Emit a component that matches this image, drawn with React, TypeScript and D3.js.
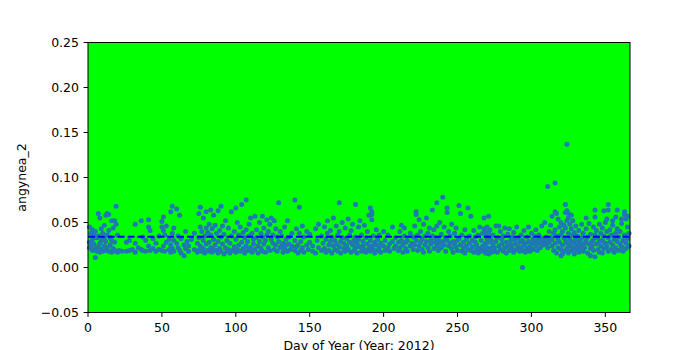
import React from "react";
import * as d3 from "d3";

// Each row: [dayOfYear, value, value, ...]
const quarter1: number[][] = [
  [1, 0.045, 0.028, 0.022], [2, 0.038, 0.024], [3, 0.042, 0.031, 0.019], [4, 0.026, 0.036],
  [5, 0.011, 0.021, 0.040], [6, 0.033, 0.018], [7, 0.060, 0.035, 0.023], [8, 0.055, 0.027, 0.017],
  [9, 0.043, 0.030, 0.020], [10, 0.038, 0.018], [11, 0.032, 0.024, 0.047], [12, 0.058, 0.029, 0.019],
  [13, 0.060, 0.036, 0.022], [14, 0.059, 0.041, 0.018], [15, 0.033, 0.025], [16, 0.052, 0.030, 0.017],
  [17, 0.044, 0.021], [18, 0.052, 0.028, 0.019], [19, 0.068, 0.048, 0.018], [20, 0.036, 0.017],
  [21, 0.019], [23, 0.018], [26, 0.018, 0.028], [28, 0.030, 0.019], [30, 0.020],
  [32, 0.048, 0.027, 0.017], [34, 0.022], [36, 0.052, 0.020], [37, 0.019, 0.034], [39, 0.030, 0.018],
  [41, 0.053, 0.045, 0.024], [42, 0.041, 0.019], [44, 0.021, 0.032], [46, 0.018, 0.027],
  [48, 0.035, 0.020], [50, 0.045, 0.051, 0.019], [51, 0.056, 0.041, 0.024], [52, 0.036, 0.018],
  [53, 0.028, 0.046], [55, 0.020, 0.031], [56, 0.062, 0.025, 0.017], [57, 0.068, 0.038, 0.021],
  [58, 0.030, 0.018, 0.044], [60, 0.065, 0.027], [61, 0.022, 0.035], [62, 0.058, 0.019],
  [63, 0.032, 0.016], [65, 0.025, 0.013], [66, 0.040, 0.021], [67, 0.029], [68, 0.018, 0.024],
  [70, 0.031], [72, 0.020, 0.038], [74, 0.027, 0.017], [75, 0.060, 0.033, 0.019],
  [76, 0.067, 0.045, 0.024], [77, 0.040, 0.018], [78, 0.055, 0.030, 0.021], [79, 0.035, 0.016],
  [80, 0.062, 0.044, 0.026], [81, 0.039, 0.019], [82, 0.048, 0.028, 0.018], [83, 0.064, 0.036, 0.022],
  [84, 0.043, 0.017], [85, 0.058, 0.031, 0.020], [86, 0.047, 0.025], [87, 0.038, 0.019],
  [88, 0.063, 0.029, 0.016], [89, 0.041, 0.021], [90, 0.068, 0.034, 0.018], [91, 0.046, 0.026],
];

const quarter2: number[][] = [
  [92, 0.037, 0.015], [93, 0.052, 0.022], [94, 0.030, 0.018], [95, 0.044, 0.020], [96, 0.027, 0.016],
  [97, 0.062, 0.035], [98, 0.019], [99, 0.040, 0.023], [100, 0.066, 0.031, 0.017], [101, 0.050, 0.020],
  [102, 0.036, 0.025], [103, 0.045, 0.018], [104, 0.070, 0.028], [105, 0.039, 0.021], [106, 0.033, 0.016],
  [107, 0.075, 0.042, 0.024], [108, 0.029, 0.019], [109, 0.048, 0.035], [110, 0.055, 0.022],
  [111, 0.038, 0.017], [112, 0.031, 0.026], [113, 0.057, 0.020], [114, 0.042, 0.033], [115, 0.024, 0.016],
  [116, 0.050, 0.029], [117, 0.038, 0.021], [118, 0.057, 0.034, 0.018], [119, 0.044, 0.026],
  [120, 0.030, 0.017], [121, 0.053, 0.036], [122, 0.022, 0.040], [123, 0.048, 0.019], [124, 0.055, 0.031],
  [125, 0.027, 0.036], [126, 0.052, 0.020], [127, 0.043, 0.025], [128, 0.034, 0.018], [129, 0.072, 0.029],
  [130, 0.040, 0.022], [131, 0.024, 0.035], [132, 0.027, 0.017], [133, 0.045, 0.021], [134, 0.031, 0.025],
  [135, 0.052, 0.018], [136, 0.026, 0.034], [137, 0.020], [138, 0.038, 0.024], [140, 0.075, 0.030, 0.019],
  [141, 0.043, 0.023], [142, 0.025, 0.016], [143, 0.067, 0.038], [144, 0.029, 0.019], [145, 0.046, 0.022],
  [146, 0.034, 0.017], [148, 0.040, 0.025], [149, 0.020], [150, 0.028, 0.037], [152, 0.018, 0.024],
  [154, 0.043, 0.016], [155, 0.030], [156, 0.022, 0.048], [158, 0.035, 0.019], [159, 0.027],
  [160, 0.045, 0.021], [161, 0.031, 0.017], [162, 0.052, 0.038], [163, 0.025, 0.019], [164, 0.041, 0.029],
  [165, 0.016, 0.034], [166, 0.055, 0.024], [167, 0.030, 0.020], [168, 0.046, 0.026], [169, 0.036, 0.018],
  [170, 0.072, 0.040, 0.023], [171, 0.029, 0.016], [172, 0.050, 0.033], [173, 0.021, 0.027],
  [174, 0.044, 0.018], [175, 0.032, 0.024], [176, 0.054, 0.020], [177, 0.028, 0.036], [178, 0.017, 0.041],
  [179, 0.048, 0.025], [180, 0.030, 0.019], [181, 0.070, 0.034, 0.022], [182, 0.027, 0.016],
];

const quarter3: number[][] = [
  [183, 0.045, 0.031], [184, 0.052, 0.023], [185, 0.036, 0.018], [186, 0.029, 0.024], [187, 0.047, 0.020],
  [188, 0.033, 0.017], [189, 0.040, 0.026], [190, 0.058, 0.021], [191, 0.066, 0.030, 0.018],
  [192, 0.062, 0.059, 0.053, 0.024], [193, 0.035, 0.020], [194, 0.028, 0.016], [195, 0.042, 0.025],
  [196, 0.031, 0.019], [197, 0.022, 0.036], [198, 0.027, 0.017], [200, 0.040, 0.024], [201, 0.030, 0.019],
  [203, 0.022, 0.036], [204, 0.026, 0.018], [206, 0.045, 0.029], [207, 0.021], [208, 0.033, 0.024],
  [210, 0.019, 0.028], [211, 0.040, 0.022], [212, 0.047, 0.030], [213, 0.025, 0.017], [214, 0.044, 0.035],
  [215, 0.021, 0.028], [216, 0.030, 0.018], [218, 0.024, 0.038], [219, 0.027], [220, 0.034, 0.020],
  [221, 0.046, 0.025], [222, 0.062, 0.059, 0.030], [223, 0.036, 0.019], [224, 0.053, 0.024],
  [225, 0.040, 0.028], [226, 0.020, 0.031], [227, 0.048, 0.017], [228, 0.035, 0.025], [229, 0.055, 0.029],
  [230, 0.022, 0.038], [231, 0.044, 0.018], [232, 0.030, 0.026], [233, 0.064, 0.035], [234, 0.042, 0.021],
  [235, 0.028, 0.033], [236, 0.072, 0.046, 0.024], [237, 0.031, 0.019], [238, 0.050, 0.027],
  [239, 0.037, 0.022], [240, 0.078, 0.029], [241, 0.045, 0.025], [242, 0.033, 0.018],
  [243, 0.066, 0.061, 0.030], [244, 0.040, 0.024], [245, 0.027, 0.035], [246, 0.048, 0.021],
  [247, 0.029, 0.017], [248, 0.038, 0.026], [249, 0.044, 0.023], [250, 0.030, 0.019], [251, 0.069, 0.032],
  [252, 0.060, 0.025], [253, 0.036, 0.018], [254, 0.028, 0.022], [255, 0.042, 0.016], [256, 0.031, 0.024],
  [257, 0.066, 0.020], [258, 0.035, 0.027], [259, 0.057, 0.019], [260, 0.023, 0.030], [261, 0.041, 0.017],
  [262, 0.028, 0.034], [263, 0.020, 0.025], [264, 0.036, 0.016], [265, 0.045, 0.021], [266, 0.030, 0.018],
  [267, 0.024, 0.038], [268, 0.055, 0.043, 0.020], [269, 0.040, 0.035, 0.027, 0.016],
  [270, 0.045, 0.032, 0.022, 0.018], [271, 0.057, 0.039, 0.028, 0.015], [272, 0.042, 0.034, 0.021],
  [273, 0.030, 0.017], [274, 0.036, 0.025],
];

const quarter4: number[][] = [
  [275, 0.022, 0.018], [276, 0.046, 0.029], [277, 0.033, 0.017], [278, 0.046, 0.024], [279, 0.040, 0.020],
  [280, 0.031, 0.026], [281, 0.018, 0.035], [282, 0.044, 0.022], [283, 0.028, 0.016], [284, 0.037, 0.024],
  [285, 0.043, 0.019], [286, 0.030, 0.025], [287, 0.021, 0.034], [288, 0.039, 0.017], [289, 0.026, 0.031],
  [290, 0.045, 0.020], [291, 0.033, 0.023], [292, 0.018, 0.028], [293, 0.036, 0.022],
  [294, 0.000, 0.030, 0.019], [295, 0.041, 0.025], [296, 0.027, 0.017], [297, 0.034, 0.021],
  [298, 0.045, 0.029], [299, 0.023, 0.018], [300, 0.038, 0.026], [301, 0.031, 0.020], [302, 0.028, 0.035],
  [303, 0.042, 0.024], [304, 0.019, 0.030], [305, 0.036, 0.027], [306, 0.033, 0.022], [307, 0.046, 0.029],
  [308, 0.025, 0.031], [309, 0.050, 0.030], [310, 0.034, 0.026], [311, 0.090, 0.030, 0.022],
  [312, 0.040, 0.028], [313, 0.047, 0.033], [314, 0.057, 0.031, 0.024], [315, 0.038, 0.019],
  [316, 0.094, 0.062, 0.042, 0.027], [317, 0.060, 0.035, 0.016], [318, 0.054, 0.031, 0.022],
  [319, 0.045, 0.028], [320, 0.050, 0.036, 0.020, 0.013], [321, 0.040, 0.025, 0.015],
  [322, 0.047, 0.033, 0.018], [323, 0.070, 0.061, 0.044, 0.030], [324, 0.137, 0.063, 0.052, 0.027, 0.021],
  [325, 0.060, 0.055, 0.038, 0.016], [326, 0.048, 0.032, 0.024], [327, 0.058, 0.043, 0.029, 0.019],
  [328, 0.052, 0.036, 0.022], [329, 0.039, 0.027, 0.015], [330, 0.046, 0.031, 0.020], [331, 0.035, 0.024],
  [332, 0.041, 0.028, 0.017], [333, 0.030, 0.021], [334, 0.048, 0.033, 0.025], [335, 0.038, 0.018],
  [336, 0.027, 0.022], [337, 0.055, 0.043, 0.030], [338, 0.034, 0.016], [339, 0.049, 0.026],
  [340, 0.037, 0.013, 0.021], [341, 0.029, 0.024], [342, 0.045, 0.031, 0.019],
  [343, 0.064, 0.056, 0.036, 0.012], [344, 0.041, 0.026], [345, 0.033, 0.020], [346, 0.048, 0.029, 0.017],
  [347, 0.038, 0.024], [348, 0.044, 0.030, 0.016], [349, 0.063, 0.035, 0.021], [350, 0.050, 0.027],
  [351, 0.054, 0.040, 0.023], [352, 0.070, 0.064, 0.033, 0.018], [353, 0.042, 0.028], [354, 0.036, 0.020],
  [355, 0.052, 0.047, 0.025], [356, 0.031, 0.017], [357, 0.056, 0.038, 0.022], [358, 0.064, 0.043, 0.029],
  [359, 0.034, 0.019], [360, 0.040, 0.026], [361, 0.054, 0.049, 0.023], [362, 0.030, 0.018],
  [363, 0.062, 0.059, 0.036], [364, 0.054, 0.027, 0.021], [365, 0.057, 0.045, 0.032], [366, 0.038, 0.024],
];

const meanLine = 0.0341;
const xTicks = [0, 50, 100, 150, 200, 250, 300, 350];
const yTicks = [-0.05, 0, 0.05, 0.1, 0.15, 0.2, 0.25];
const xLabel = "Day of Year (Year: 2012)";
const yLabel = "angynea_2";

export default function App() {
  const W = 700, H = 350;
  const L = 88, R = 630, T = 42.5, B = 312.5;
  const x = d3.scaleLinear().domain([0, 366.7]).range([L, R]);
  const y = d3.scaleLinear().domain([-0.05, 0.25]).range([B, T]);
  const points: [number, number][] = [];
  [...quarter1, ...quarter2, ...quarter3, ...quarter4].forEach((row) => {
    for (let i = 1; i < row.length; i++) points.push([row[0], row[i]]);
  });
  const font = "'DejaVu Sans', sans-serif";
  const fs = 12.5;
  const fmtY = (v: number) => {
    const s = Math.abs(v).toFixed(2);
    return v < -1e-9 ? "\u2212" + s : s;
  };
  return (
    <svg width={W} height={H} style={{ position: "absolute", left: 0, top: 0, background: "#fff" }}>
      <rect x={L} y={T} width={R - L} height={B - T} fill="#00ff00" />
      <g>
        {points.map((p, i) => (
          <circle key={i} cx={x(p[0])} cy={y(p[1])} r={2.5} fill="#1f77b4" />
        ))}
      </g>
      <line x1={L} x2={R} y1={y(meanLine)} y2={y(meanLine)} stroke="#0000ff" strokeWidth={1.9} strokeDasharray="6.9,3" />
      <rect x={L} y={T} width={R - L} height={B - T} fill="none" stroke="#000" strokeWidth={1} />
      {xTicks.map((t) => (
        <g key={"x" + t}>
          <line x1={x(t)} x2={x(t)} y1={B} y2={B + 4.4} stroke="#000" strokeWidth={1} />
          <text x={x(t)} y={B + 19.3} textAnchor="middle" fontFamily={font} fontSize={fs} fill="#000">{t}</text>
        </g>
      ))}
      {yTicks.map((t) => (
        <g key={"y" + t}>
          <line x1={L - 4.4} x2={L} y1={y(t)} y2={y(t)} stroke="#000" strokeWidth={1} />
          <text x={L - 9} y={y(t)} dy="0.36em" textAnchor="end" fontFamily={font} fontSize={fs} fill="#000">{fmtY(t)}</text>
        </g>
      ))}
      <text x={(L + R) / 2} y={349.5} textAnchor="middle" fontFamily={font} fontSize={fs} fill="#000">{xLabel}</text>
      <text transform={`translate(25.5, ${(T + B) / 2}) rotate(-90)`} textAnchor="middle" fontFamily={font} fontSize={fs} fill="#000">{yLabel}</text>
    </svg>
  );
}
